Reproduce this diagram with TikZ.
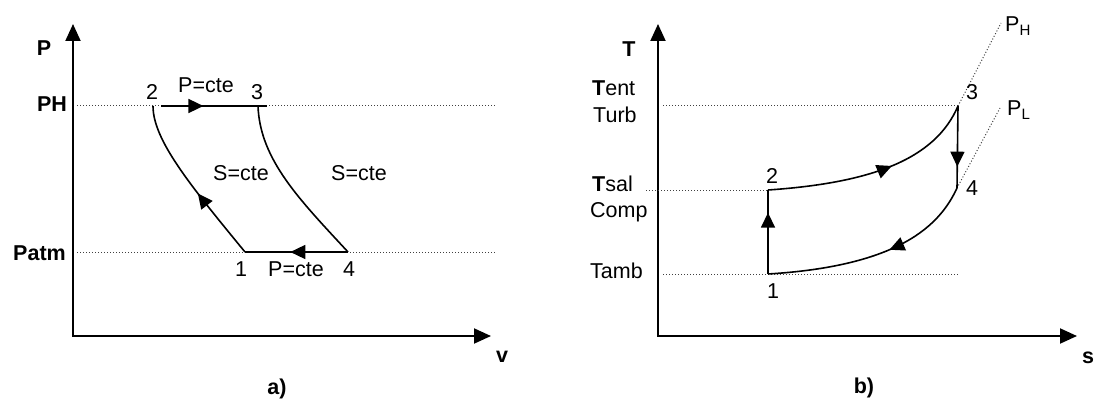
\documentclass[tikz,border=0pt]{standalone}
\usepackage{fontspec}
\setmainfont{Liberation Sans}
\usetikzlibrary{arrows.meta,decorations.markings}
\begin{document}
\begin{tikzpicture}[x=1pt,y=-1pt,
  lbl/.style={font=\fontsize{21.5}{24}\selectfont, inner sep=0pt, anchor=base},
  blbl/.style={lbl, font=\fontsize{21.5}{24}\selectfont\bfseries},
  axisline/.style={line width=2pt, line join=miter,
    {Triangle[length=17pt,width=15pt]}-{Triangle[length=17pt,width=15pt]}},
  guide/.style={line width=1pt, black!75, dash pattern=on 1pt off 2pt},
  proc/.style={line width=1.6pt},
  midarrow/.style={postaction={decorate}, decoration={markings,
    mark=at position #1 with {\arrow{Triangle[length=15pt,width=14pt]}}}}
]
\useasboundingbox (0,0) rectangle (1098,401);

% ---------- a) P-v diagram ----------
\coordinate (aO) at (73,336);
\coordinate (aY) at (73,24);
\coordinate (aX) at (491,336);
\draw[axisline] (aY) -- (aO) -- (aX);

\coordinate (aHs) at (77,106);  \coordinate (aHe) at (495,106);
\coordinate (aLs) at (77,252);  \coordinate (aLe) at (495,252);
\draw[guide] (aHs) -- (aHe);
\draw[guide] (aLs) -- (aLe);

\coordinate (a1) at (245,252);
\coordinate (a2) at (153,106);
\coordinate (a3) at (258,106);
\coordinate (a4) at (348,252);
\coordinate (a2r) at (161,106);
\coordinate (a3r) at (267,106);

\draw[proc, midarrow=0.4] (a2r) -- (a3r);
\draw[proc, midarrow=0.56] (a4) -- (a1);
\draw[proc, midarrow=0.43] (a1) .. controls (190,185) and (153,140) .. (a2);
\draw[proc] (a3) .. controls (260,160) and (300,200) .. (a4);

\node[blbl] (lP) at (44,56) {P};
\node[blbl] (lPH) at (52,112) {PH};
\node[blbl] (lPatm) at (39.5,260) {Patm};
\node[blbl] (lv) at (502,362) {v};
\node[blbl] (la) at (277,394) {a)};

\node[lbl] (n2a) at (152,100) {2};
\node[lbl] (n3a) at (257,100) {3};
\node[lbl] (n1a) at (241,276) {1};
\node[lbl] (n4a) at (349,276) {4};
\node[lbl] (pcte1) at (206,93) {P=cte};
\node[lbl] (pcte2) at (296,276) {P=cte};
\node[lbl] (scte1) at (241,180) {S=cte};
\node[lbl] (scte2) at (359,180) {S=cte};

% ---------- b) T-s diagram ----------
\coordinate (bO) at (658,336);
\coordinate (bY) at (658,24);
\coordinate (bX) at (1077,336);
\draw[axisline] (bY) -- (bO) -- (bX);

\coordinate (b1) at (768,274);
\coordinate (b2) at (768,190);
\coordinate (b3) at (958,106);
\coordinate (b4) at (957,188);

\coordinate (bHs) at (663,106);
\coordinate (bMs) at (646,190);
\coordinate (bLs) at (663,274);
\coordinate (bLe) at (958,274);
\coordinate (bPH) at (1001,23);
\coordinate (bPL) at (1000,108);
\draw[guide] (bHs) -- (b3);
\draw[guide] (bMs) -- (b2);
\draw[guide] (bLs) -- (bLe);
\draw[guide] (b3) -- (bPH);
\draw[guide] (b4) -- (bPL);

\draw[proc, midarrow=0.73] (b1) -- (b2);
\draw[proc, midarrow=0.58] (b2) .. controls (870,183) and (935,160) .. (b3);
\draw[proc, midarrow=0.74] (b3) -- (b4);
\draw[proc, midarrow=0.43] (b4) .. controls (940,225) and (900,266) .. (b1);

\node[blbl] (lT) at (629,57) {T};
\node[lbl, anchor=base west] (lTent) at (592,96) {\textbf{T}ent};
\node[lbl, anchor=base west] (lTurb) at (593,123) {Turb};
\node[lbl, anchor=base west] (lTsal) at (592,192) {\textbf{T}sal};
\node[lbl, anchor=base west] (lComp) at (590,217) {Comp};
\node[lbl, anchor=base west] (lTamb) at (590,278) {Tamb};
\node[blbl] (ls) at (1088,363) {s};
\node[blbl] (lb) at (864,393) {b)};

\node[lbl] (n1b) at (773,298) {1};
\node[lbl] (n2b) at (772,183) {2};
\node[lbl] (n3b) at (972,100) {3};
\node[lbl] (n4b) at (972,195) {4};
\node[lbl, anchor=base west] (lPH2) at (1005,32) {P\textsubscript{H}};
\node[lbl, anchor=base west] (lPL) at (1007,116) {P\textsubscript{L}};
\end{tikzpicture}
\end{document}
